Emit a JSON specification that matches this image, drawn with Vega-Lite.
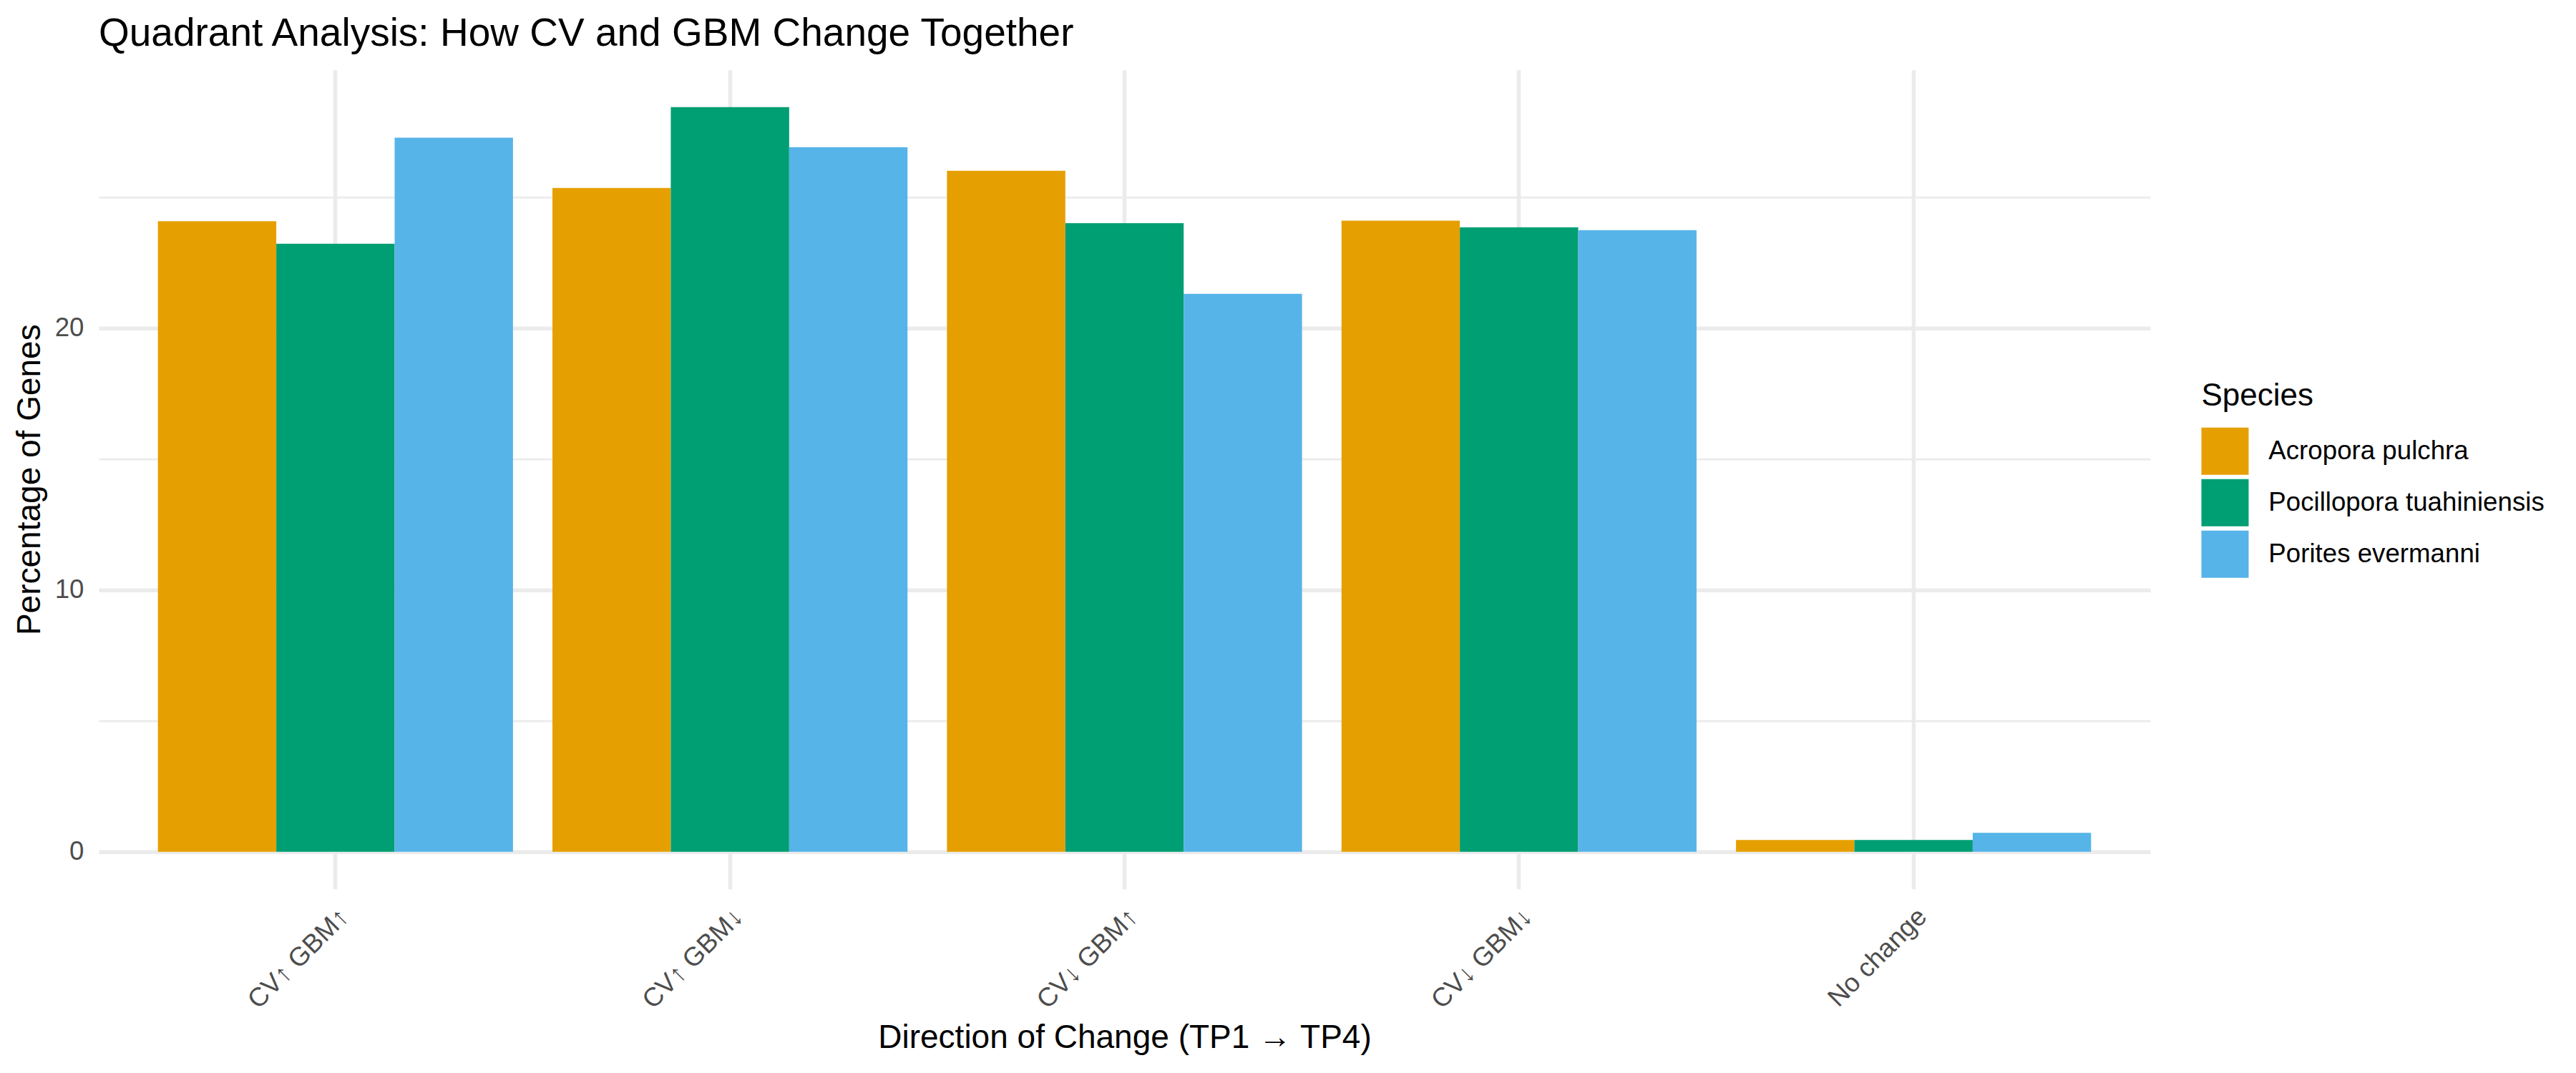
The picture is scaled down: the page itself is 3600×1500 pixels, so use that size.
{
  "$schema": "https://vega.github.io/schema/vega-lite/v6.json",
  "autosize": "none",
  "width": 2867,
  "height": 1145,
  "padding": {"left": 138, "top": 97.7, "right": 595, "bottom": 257.3},
  "background": "white",
  "config": {
    "font": "Liberation Sans",
    "view": {"stroke": null},
    "axis": {"domain": false, "ticks": false}
  },
  "title": {
    "text": "Quadrant Analysis: How CV and GBM Change Together",
    "anchor": "start",
    "frame": "group",
    "baseline": "alphabetic",
    "offset": 34.7,
    "dy": 56,
    "fontSize": 55,
    "fontWeight": "normal",
    "color": "black",
    "font": "Liberation Sans"
  },
  "data": {
    "values": [
      {"direction": "CV↑ GBM↑", "species": "Acropora pulchra", "pct": 24.07},
      {"direction": "CV↑ GBM↑", "species": "Pocillopora tuahiniensis", "pct": 23.21},
      {"direction": "CV↑ GBM↑", "species": "Porites evermanni", "pct": 27.26},
      {"direction": "CV↑ GBM↓", "species": "Acropora pulchra", "pct": 25.34},
      {"direction": "CV↑ GBM↓", "species": "Pocillopora tuahiniensis", "pct": 28.43},
      {"direction": "CV↑ GBM↓", "species": "Porites evermanni", "pct": 26.9},
      {"direction": "CV↓ GBM↑", "species": "Acropora pulchra", "pct": 26.0},
      {"direction": "CV↓ GBM↑", "species": "Pocillopora tuahiniensis", "pct": 24.0},
      {"direction": "CV↓ GBM↑", "species": "Porites evermanni", "pct": 21.3},
      {"direction": "CV↓ GBM↓", "species": "Acropora pulchra", "pct": 24.09},
      {"direction": "CV↓ GBM↓", "species": "Pocillopora tuahiniensis", "pct": 23.84},
      {"direction": "CV↓ GBM↓", "species": "Porites evermanni", "pct": 23.73},
      {"direction": "No change", "species": "Acropora pulchra", "pct": 0.45},
      {"direction": "No change", "species": "Pocillopora tuahiniensis", "pct": 0.45},
      {"direction": "No change", "species": "Porites evermanni", "pct": 0.72}
    ]
  },
  "mark": {"type": "bar", "strokeWidth": 0},
  "encoding": {
    "x": {
      "field": "direction",
      "type": "nominal",
      "sort": ["CV↑ GBM↑", "CV↑ GBM↓", "CV↓ GBM↑", "CV↓ GBM↓", "No change"],
      "scale": {"paddingInner": 0.1, "paddingOuter": 0.15},
      "axis": {
        "title": "Direction of Change (TP1 → TP4)",
        "titleFontSize": 46,
        "titleFontWeight": "normal",
        "titleColor": "black",
        "titleBaseline": "alphabetic",
        "titleY": 222,
        "labelAngle": -45,
        "labelAlign": "right",
        "labelBaseline": "top",
        "labelPadding": 20,
        "labelLimit": 0,
        "labelFontSize": 36.7,
        "labelColor": "#4D4D4D",
        "grid": true,
        "gridColor": "#EBEBEB",
        "gridWidth": 5.5,
        "bandPosition": 0.5
      }
    },
    "xOffset": {
      "field": "species",
      "type": "nominal",
      "scale": {"paddingInner": 0, "paddingOuter": 0}
    },
    "y": {
      "field": "pct",
      "type": "quantitative",
      "scale": {"domain": [-1.42, 29.85], "nice": false, "zero": false},
      "axis": {
        "title": "Percentage of Genes",
        "titleFontSize": 46,
        "titleFontWeight": "normal",
        "titleColor": "black",
        "titleBaseline": "alphabetic",
        "titleAngle": -90,
        "titleX": -83,
        "titleY": 572.5,
        "titleAlign": "center",
        "values": [0, 5, 10, 15, 20, 25],
        "labelExpr": "datum.value % 10 === 0 ? datum.label : ''",
        "labelFontSize": 36.7,
        "labelColor": "#4D4D4D",
        "labelPadding": 21,
        "grid": true,
        "gridColor": "#EBEBEB",
        "gridWidth": {"condition": {"test": "datum.value % 10 === 0", "value": 5.5}, "value": 2.7}
      }
    },
    "y2": {"datum": 0},
    "color": {
      "field": "species",
      "type": "nominal",
      "scale": {
        "domain": ["Acropora pulchra", "Pocillopora tuahiniensis", "Porites evermanni"],
        "range": ["#E69F00", "#009E73", "#56B4E9"]
      },
      "legend": {
        "title": "Species",
        "orient": "none",
        "legendX": 2938.5,
        "legendY": 434,
        "padding": 0,
        "titleFontSize": 44,
        "titleFontWeight": "normal",
        "titleColor": "black",
        "titlePadding": 22,
        "labelFontSize": 36.7,
        "labelColor": "black",
        "labelLimit": 0,
        "labelOffset": 27.8,
        "symbolType": "square",
        "symbolSize": 4356,
        "symbolStrokeWidth": 0,
        "symbolOpacity": 1,
        "rowPadding": 6
      }
    }
  }
}
